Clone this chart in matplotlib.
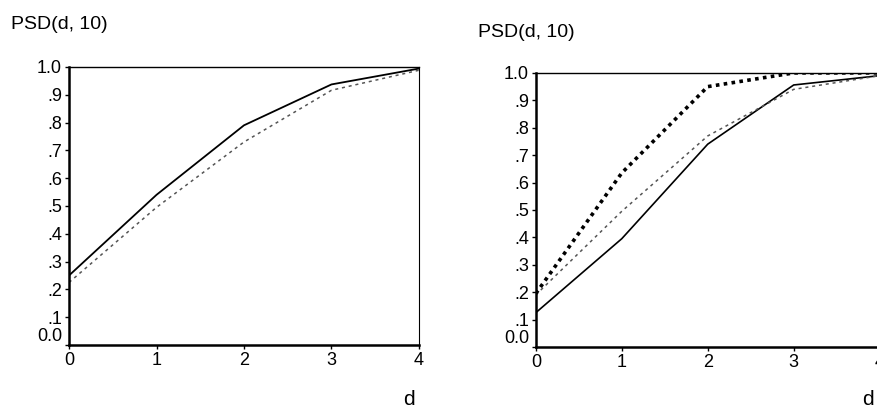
import numpy as np
import matplotlib.pyplot as plt

plt.rcParams['font.family'] = ['Liberation Sans', 'DejaVu Sans']

d = [0, 1, 2, 3, 4]

# left panel
left_solid = [0.25, 0.54, 0.79, 0.937, 0.994]
left_dashed = [0.225, 0.495, 0.73, 0.916, 0.988]

# right panel
right_solid = [0.125, 0.395, 0.74, 0.956, 0.99]
right_dashed = [0.19, 0.495, 0.77, 0.94, 0.99]
right_dotted = [0.195, 0.635, 0.95, 1.0, 1.0]

yticks = [0.0, 0.1, 0.2, 0.3, 0.4, 0.5, 0.6, 0.7, 0.8, 0.9, 1.0]
ytick_labels = ['0.0', '.1', '.2', '.3', '.4', '.5', '.6', '.7', '.8', '.9', '1.0']

fig = plt.figure(figsize=(8.77, 4.12), dpi=100)
ax1 = fig.add_axes([0.0787, 0.1626, 0.399, 0.675])
ax2 = fig.add_axes([0.611, 0.158, 0.392, 0.665])

ax1.plot(d, left_solid, color='black', lw=1.3)
ax1.plot(d, left_dashed, color='#555555', lw=1.1, dashes=(2, 2.5))

ax2.plot(d, right_solid, color='black', lw=1.2)
ax2.plot(d, right_dashed, color='#555555', lw=1.1, dashes=(2, 2.5))
ax2.plot(d, right_dotted, color='black', lw=2.6, dashes=(1, 1.2))

for ax in (ax1, ax2):
    ax.set_xlim(0, 4)
    ax.set_ylim(0, 1)
    ax.set_xticks(d)
    ax.set_yticks(yticks)
    ax.set_yticklabels(ytick_labels)
    ax.tick_params(labelsize=13, length=3, width=1, pad=2)
    ax.spines['left'].set_linewidth(1.8)
    ax.spines['bottom'].set_linewidth(1.8)
    ax.spines['top'].set_linewidth(1.0)
    ax.spines['right'].set_linewidth(0.8)
    # lift the 0.0 label off the x axis
    ax.get_yticklabels()[0].set_verticalalignment('bottom')

fig.text(0.012, 0.94, 'PSD(d, 10)', fontsize=14, va='center')
fig.text(0.545, 0.92, 'PSD(d, 10)', fontsize=14, va='center')
fig.text(0.466, 0.03, 'd', fontsize=15, va='center', ha='center')
fig.text(0.99, 0.03, 'd', fontsize=15, va='center', ha='center')

plt.savefig('out.png', dpi=100)
